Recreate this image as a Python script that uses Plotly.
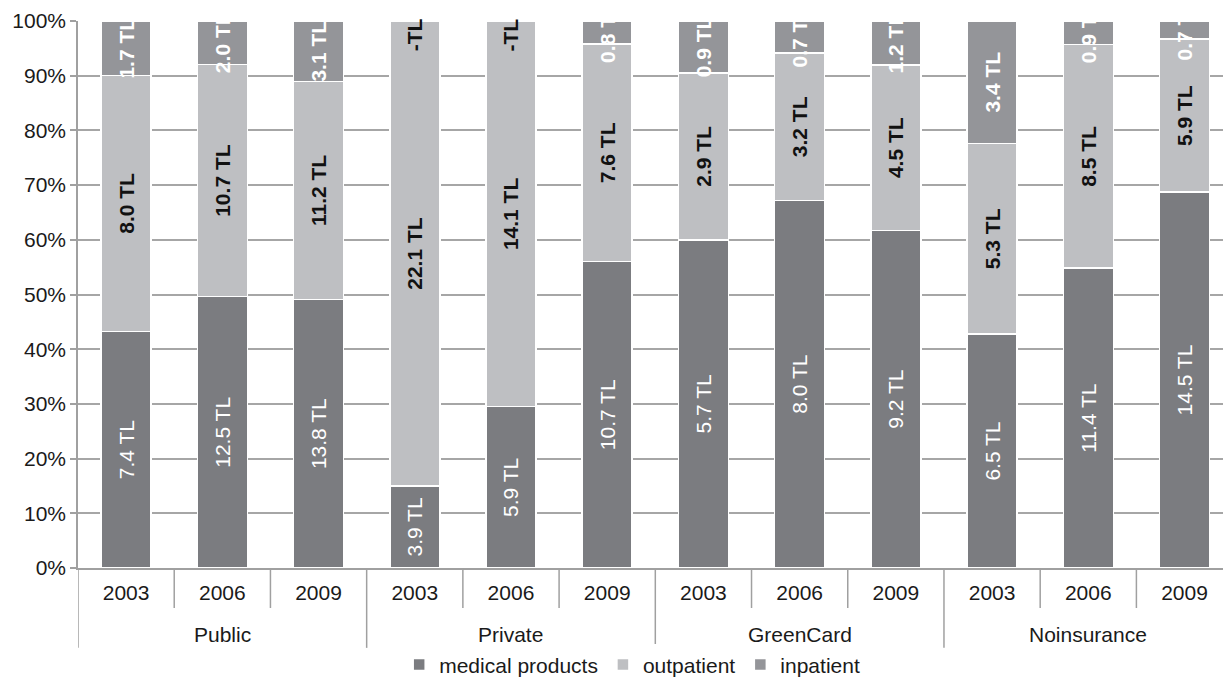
import plotly.graph_objects as go

# Health expenditure by insurance status and year (TL), shown as 100% stacks
groups = ["Public"] * 3 + ["Private"] * 3 + ["GreenCard"] * 3 + ["Noinsurance"] * 3
years = ["2003", "2006", "2009"] * 4

medical_products = [7.4, 12.5, 13.8, 3.9, 5.9, 10.7, 5.7, 8.0, 9.2, 6.5, 11.4, 14.5]
outpatient = [8.0, 10.7, 11.2, 22.1, 14.1, 7.6, 2.9, 3.2, 4.5, 5.3, 8.5, 5.9]
inpatient = [1.7, 2.0, 3.1, 0.0, 0.0, 0.8, 0.9, 0.7, 1.2, 3.4, 0.9, 0.7]

FONT = "Liberation Sans, Arial, sans-serif"
FS = 21
C_MED = "#7b7c80"
C_OUT = "#bebfc2"
C_IN = "#949599"
C_AXIS = "#a0a0a0"


def tl(v):
    return f"{v:.1f} TL" if v else "-TL"


# one category per bar; the year is shown as tick text, the group below it
cats = [f"{g} {y}" for g, y in zip(groups, years)]

fig = go.Figure()

fig.add_trace(go.Bar(
    name="medical products", x=cats, y=medical_products,
    marker=dict(color=C_MED, line=dict(color="white", width=1.5)),
    text=[tl(v) for v in medical_products], textposition="inside",
    insidetextanchor="middle", textangle=-90, constraintext="none",
    textfont=dict(family=FONT, size=FS, color="white"),
))
fig.add_trace(go.Bar(
    name="outpatient", x=cats, y=outpatient,
    marker=dict(color=C_OUT, line=dict(color="white", width=1.5)),
    text=[f"<b>{tl(v)}</b>" for v in outpatient], textposition="inside",
    insidetextanchor="middle", textangle=-90, constraintext="none",
    textfont=dict(family=FONT, size=FS, color="#111111"),
))
fig.add_trace(go.Bar(
    name="inpatient", x=cats, y=inpatient,
    marker=dict(color=C_IN, line=dict(color="white", width=1.5)),
    text=[f"<b>{tl(v)}</b>" if v else "" for v in inpatient], textposition="inside",
    insidetextanchor="middle", textangle=-90, constraintext="none",
    textfont=dict(family=FONT, size=FS, color="white"),
))

annotations = []
shapes = []

# zero-valued inpatient segments get their "-TL" label at the top of the stack
for i, v in enumerate(inpatient):
    if v == 0:
        annotations.append(dict(
            x=i, y=100, xref="x", yref="y", text=f"<b>{tl(v)}</b>",
            textangle=-90, showarrow=False, yanchor="top", yshift=5,
            font=dict(family=FONT, size=FS, color="#111111"),
        ))

# group labels and boundary lines of the two-level category axis
group_order = list(dict.fromkeys(groups))
for g in group_order:
    idx = [i for i, gg in enumerate(groups) if gg == g]
    annotations.append(dict(
        x=sum(idx) / len(idx), y=-0.1207, xref="x", yref="paper", text=g,
        showarrow=False, yanchor="middle",
        font=dict(family=FONT, size=FS, color="#1a1a1a"),
    ))
for i in range(len(cats) + 1):
    at_group_edge = i == 0 or i == len(cats) or groups[i] != groups[i - 1]
    shapes.append(dict(
        type="line", xref="x", yref="paper",
        x0=i - 0.5, x1=i - 0.5, y0=0, y1=-0.146 if at_group_edge else -0.0731,
        line=dict(color=C_AXIS, width=1.5),
    ))

fig.update_layout(
    width=1223, height=678,
    margin=dict(l=78, r=0, t=21, b=110, autoexpand=False),
    barmode="stack", barnorm="percent", bargap=0.48,
    plot_bgcolor="white", paper_bgcolor="white",
    font=dict(family=FONT, size=FS, color="#1a1a1a"),
    annotations=annotations, shapes=shapes,
    legend=dict(
        orientation="h", traceorder="normal",
        x=0.484, xanchor="center", y=-0.177, yanchor="middle",
        font=dict(family=FONT, size=FS, color="#1a1a1a"),
        itemwidth=30, tracegroupgap=0,
    ),
    xaxis=dict(
        type="category", range=[-0.5, 11.4],
        tickmode="array", tickvals=cats, ticktext=years,
        showline=True, linecolor=C_AXIS, linewidth=1.5,
        ticks="", ticklabelstandoff=5,
        tickfont=dict(family=FONT, size=FS, color="#1a1a1a"),
        showgrid=False,
    ),
    yaxis=dict(
        range=[0, 100], dtick=10, ticksuffix="%",
        showgrid=True, gridcolor="#a6a6a6", gridwidth=1.5,
        showline=True, linecolor=C_AXIS, linewidth=1.5,
        ticks="outside", ticklen=6, tickcolor=C_AXIS, tickwidth=1.5,
        tickfont=dict(family=FONT, size=FS, color="#1a1a1a"),
        zeroline=False,
    ),
)

fig.write_html("out.html")
